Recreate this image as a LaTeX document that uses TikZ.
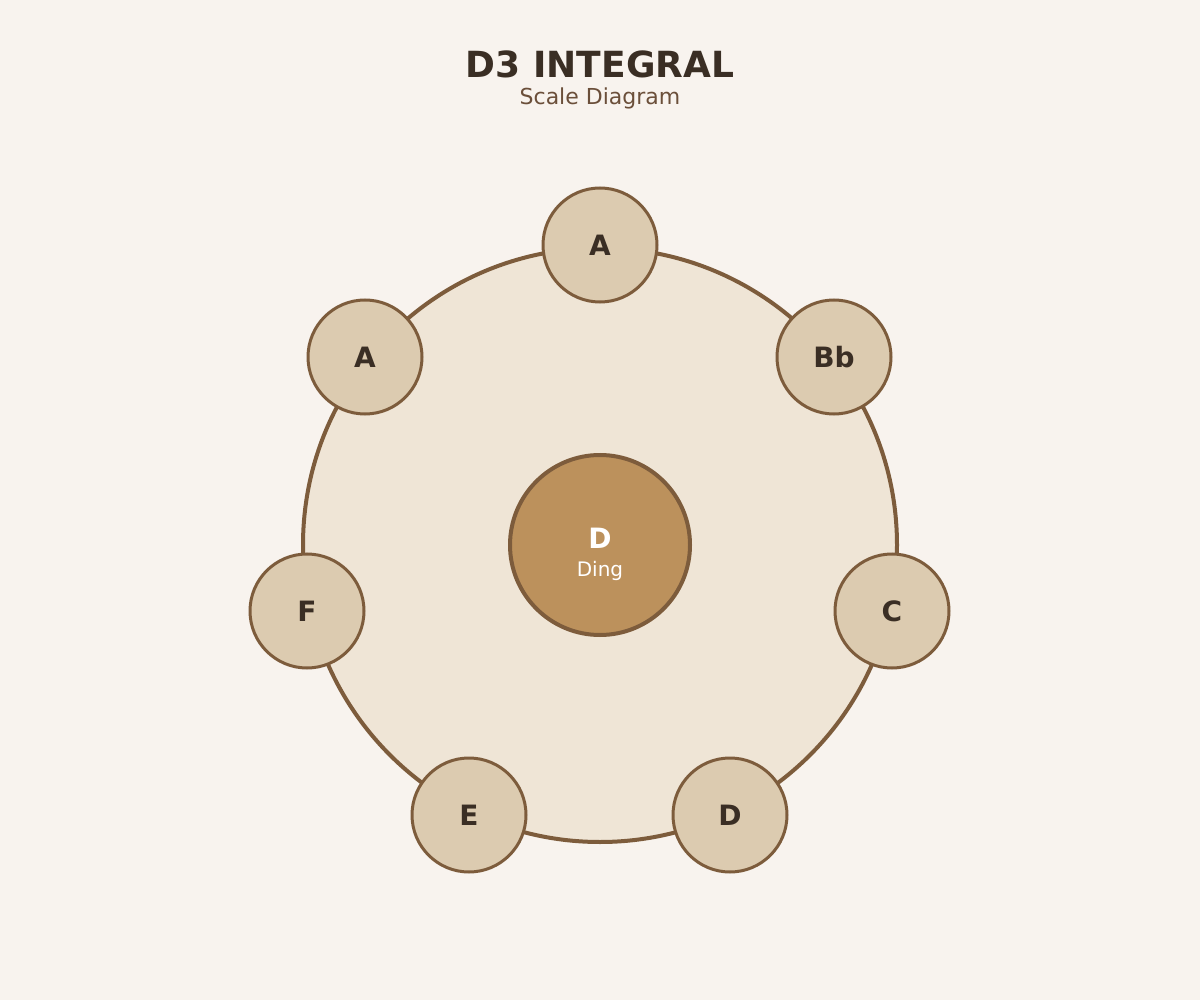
\documentclass[tikz,border=0pt]{standalone}
\usepackage{fontspec}
\setmainfont{DejaVu Sans}
\begin{document}
\definecolor{bg}{HTML}{F8F3EE}
\definecolor{ring}{HTML}{7D5C3C}
\definecolor{big}{HTML}{EFE5D6}
\definecolor{ctr}{HTML}{BC915C}
\definecolor{note}{HTML}{DCCBB0}
\definecolor{ink}{HTML}{3A2E24}
\definecolor{sub}{HTML}{6B4F3A}
\begin{tikzpicture}[x=1pt,y=-1pt,
  tone/.style={circle,draw=ring,line width=3pt,fill=note,minimum size=114pt,inner sep=0pt,
    font=\bfseries\fontsize{28}{30}\selectfont,text=ink}]
\fill[bg] (0,0) rectangle (1200,1000);
\useasboundingbox (0,0) rectangle (1200,1000);
\node[font=\bfseries\fontsize{36}{40}\selectfont,text=ink] (title) at (600,64) {D3 INTEGRAL};
\node[font=\fontsize{22}{24}\selectfont,text=sub] (subt) at (600,98) {Scale Diagram};
\node[circle,draw=ring,line width=4pt,fill=big,minimum size=594pt] (body) at (600,545) {};
\node[circle,draw=ring,line width=4pt,fill=ctr,minimum size=180pt] (ding) at (600,545) {};
\node[text=white,font=\bfseries\fontsize{28}{30}\selectfont] (dl) at (600,538) {D};
\node[text=white,font=\fontsize{20}{22}\selectfont] (dn) at (600,571) {Ding};
\node[tone] (n1) at (600,245) {\raisebox{-7pt}{A}};
\node[tone] (n2) at (834,357) {\raisebox{-7pt}{Bb}};
\node[tone] (n3) at (892,611) {\raisebox{-7pt}{C}};
\node[tone] (n4) at (730,815) {\raisebox{-7pt}{D}};
\node[tone] (n5) at (469,815) {\raisebox{-7pt}{E}};
\node[tone] (n6) at (307,611) {\raisebox{-7pt}{F}};
\node[tone] (n7) at (365,357) {\raisebox{-7pt}{A}};
\end{tikzpicture}
\end{document}
